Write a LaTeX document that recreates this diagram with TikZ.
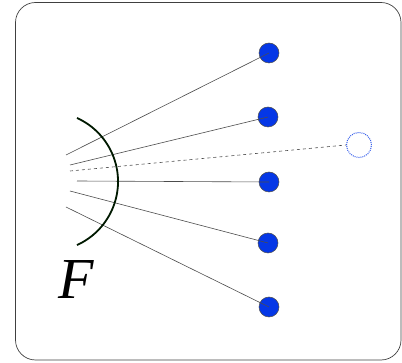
\documentclass[tikz,border=0pt]{standalone}
\usepackage{fontspec}
\setmainfont{Liberation Serif}
\definecolor{dotblue}{RGB}{5,55,230}
\begin{document}
\begin{tikzpicture}[x=1pt,y=-1pt,
  dot/.style={circle,fill=dotblue,draw=black!70,line width=0.5pt,minimum size=20pt,inner sep=0pt},
  ghost/.style={circle,draw=dotblue!80,densely dotted,line width=1pt,minimum size=25pt,inner sep=0pt},
  ray/.style={draw=black!70,line width=0.6pt}]
\useasboundingbox (0,0) rectangle (402,363);
\draw[black!75,line width=0.7pt,rounded corners=20pt] (15.5,2.5) rectangle (401,360);
\node[dot] (c1) at (269,53) {};
\node[dot] (c2) at (268,117) {};
\node[dot] (c3) at (269,182) {};
\node[dot] (c4) at (268,243) {};
\node[dot] (c5) at (269,307) {};
\node[ghost] (g) at (359,145) {};
\coordinate (s1) at (66,155);
\coordinate (s2) at (70,165);
\coordinate (sd) at (70,171);
\coordinate (s3) at (77,181);
\coordinate (s4) at (70,191);
\coordinate (s5) at (66,207);
\draw[ray] (s1) -- (c1.center);
\draw[ray] (s2) -- (c2.center);
\draw[ray,dashed] (sd) -- (g.west);
\draw[ray] (s3) -- (c3.center);
\draw[ray] (s4) -- (c4.center);
\draw[ray] (s5) -- (c5.center);
\draw[black!90!green,line width=1.8pt] (77,118) arc[start angle=-65.7,end angle=65.7,radius=69.7];
\node[font=\fontsize{58}{58}\selectfont\itshape,inner sep=0pt] (F) at (76,280) {F};
\end{tikzpicture}
\end{document}
